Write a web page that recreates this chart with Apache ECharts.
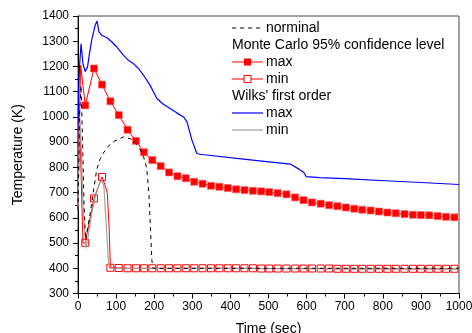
<!DOCTYPE html>
<html>
<head>
<meta charset="utf-8">
<script src="https://cdn.jsdelivr.net/npm/echarts@6/dist/echarts.min.js"></script>
<style>
  html, body { margin: 0; padding: 0; background: #fff; }
  #chart { width: 472px; height: 333px; }
</style>
</head>
<body>
<div id="chart"></div>
<script>
// ---- Data ----
const xTicks = [0, 100, 200, 300, 400, 500, 600, 700, 800, 900, 1000];
const yTicks = [300, 400, 500, 600, 700, 800, 900, 1000, 1100, 1200, 1300, 1400];

// Monte Carlo marker times (shared by max and min)
const mcMarkT = [19, 42, 63, 85, 107, 130, 152, 173, 195, 217, 239, 261, 283, 305, 327,
  349, 371, 393, 415, 437, 459, 481, 502, 524, 547, 570, 592, 614, 637, 659,
  681, 703, 725, 746, 768, 790, 812, 834, 857, 879, 900, 922, 944, 966, 988];
const mcMaxK = [1046, 1192, 1128, 1062, 1007, 949, 905, 860, 829, 805, 780, 765, 757, 743, 735,
  727, 723, 718, 713, 710, 707, 705, 702, 698, 693, 681, 670, 661, 656, 650,
  646, 641, 636, 632, 629, 625, 621, 618, 615, 612, 611, 610, 607, 604, 602];
const mcMinK = [501, 677, 762, 402, 401, 400, 400, 400, 400, 400, 400, 400, 400, 400, 400,
  400, 400, 400, 400, 400, 400, 399, 399, 399, 399, 399, 399, 399, 399, 399,
  398, 398, 398, 398, 398, 398, 398, 398, 398, 398, 398, 398, 398, 398, 398];
// un-marked intermediate points of the Monte Carlo curves
const mcMaxExtraT = [0, 3, 7];
const mcMaxExtraK = [630, 950, 1205];
const mcMinExtraT = [0, 4, 13, 72, 77, 82];
const mcMinExtraK = [630, 1010, 500, 725, 697, 550];

// Wilks' first order max (blue)
const wilksMaxT = [0, 1, 4, 8, 13, 19, 25, 30, 36, 45, 50, 55, 62, 76, 89, 102, 119, 132, 145, 160,
  172, 189, 207, 224, 242, 259, 277, 286, 299, 312, 320, 434, 557, 581, 593, 599, 635, 700, 806, 900, 1000];
const wilksMaxK = [640, 1070, 1200, 1290, 1210, 1180, 1198, 1250, 1304, 1363, 1380, 1337, 1324, 1314, 1297, 1277, 1245, 1225, 1212, 1190,
  1165, 1126, 1073, 1050, 1033, 1016, 1000, 980, 908, 855, 852, 833, 813, 792, 780, 763, 759, 755, 747, 740, 732];

// Wilks' first order min (gray)
const wilksMinT = [0, 4, 8, 13, 21, 28, 36, 45, 55, 62, 68, 75, 80, 83, 1000];
const wilksMinK = [630, 1000, 900, 650, 479, 540, 618, 680, 730, 750, 725, 551, 430, 400, 397];

// Nominal (dashed)
const nominalT = [0, 4, 8, 12, 16, 20, 32, 42, 49, 57, 67, 80, 97, 120, 140, 155, 165, 172, 180, 186, 190, 194, 197, 1000];
const nominalK = [630, 1000, 1125, 900, 650, 512, 618, 720, 790, 830, 858, 885, 905, 921, 912, 890, 865, 842, 800, 700, 560, 430, 400, 400];

// ---- build series data ----
function pairs(ts, vs) { return ts.map((t, i) => [t, vs[i]]); }
function withMarks(markT, markV, extraT, extraV) {
  const a = markT.map((t, i) => ({ value: [t, markV[i]] }));
  const b = extraT.map((t, i) => ({ value: [t, extraV[i]], symbol: 'none' }));
  return a.concat(b).sort((p, q) => p.value[0] - q.value[0]);
}

const FONT = "'Liberation Sans', Arial, sans-serif";
const chart = echarts.init(document.getElementById('chart'), null, { renderer: 'canvas' });

const legendX = 232, legendText = 266, rowH = 17, row0 = 28;
function rowY(i) { return row0 + i * rowH; }
const txt = (x, y, s) => ({ type: 'text', x: x, y: y, style: { text: s, fill: '#000', font: '14px ' + FONT, verticalAlign: 'middle', align: 'left' }, z: 100 });
const ln = (y, color, dash, w) => ({ type: 'line', shape: { x1: legendX, y1: y, x2: legendX + 31, y2: y }, style: { stroke: color, lineWidth: w || 1, lineDash: dash || null }, z: 100 });

chart.setOption({
  animation: false,
  backgroundColor: '#fff',
  grid: { left: 78, top: 16, right: 13, bottom: 39.5, containLabel: false, outerBoundsMode: 'none',
    show: true, borderColor: '#444', borderWidth: 1, backgroundColor: 'transparent' },
  xAxis: {
    type: 'value', min: xTicks[0], max: xTicks[xTicks.length - 1], interval: 100,
    name: 'Time (sec)', nameLocation: 'middle', nameGap: 29,
    nameTextStyle: { fontFamily: FONT, fontSize: 14, color: '#000' },
    axisLine: { lineStyle: { color: '#000', width: 1 } },
    axisTick: { show: true, inside: false, length: 5, lineStyle: { color: '#000' } },
    minorTick: { show: true, splitNumber: 2, length: 3, lineStyle: { color: '#000' } },
    axisLabel: { fontFamily: FONT, fontSize: 12, color: '#000', margin: 7, formatter: v => String(v) },
    splitLine: { show: false }
  },
  yAxis: {
    type: 'value', min: yTicks[0], max: yTicks[yTicks.length - 1], interval: 100,
    name: 'Temperature (K)', nameLocation: 'middle', nameGap: 53,
    nameTextStyle: { fontFamily: FONT, fontSize: 14, color: '#000' },
    axisLine: { show: true, lineStyle: { color: '#000', width: 1 } },
    axisTick: { show: true, inside: false, length: 5, lineStyle: { color: '#000' } },
    minorTick: { show: true, splitNumber: 2, length: 3, lineStyle: { color: '#000' } },
    axisLabel: { fontFamily: FONT, fontSize: 12, color: '#000', margin: 9, formatter: v => String(v) },
    splitLine: { show: false }
  },
  series: [
    {
      name: 'Wilks max', type: 'line', data: pairs(wilksMaxT, wilksMaxK),
      symbol: 'none', lineStyle: { color: '#0000ff', width: 1.2 }, z: 2
    },
    {
      name: 'MC max', type: 'line', data: withMarks(mcMarkT, mcMaxK, mcMaxExtraT, mcMaxExtraK),
      symbol: 'rect', symbolSize: 7, showAllSymbol: true,
      lineStyle: { color: '#ff0000', width: 1 }, itemStyle: { color: '#ff0000', borderColor: '#ff6060', borderWidth: 0.6 }, z: 3
    },
    {
      name: 'MC min', type: 'line', data: withMarks(mcMarkT, mcMinK, mcMinExtraT, mcMinExtraK),
      symbol: 'rect', symbolSize: 7, showAllSymbol: true,
      lineStyle: { color: '#ff0000', width: 1 }, itemStyle: { color: 'rgba(255,255,255,0)', borderColor: '#ff0000', borderWidth: 1 }, z: 3
    },
    {
      name: 'Wilks min', type: 'line', data: pairs(wilksMinT, wilksMinK),
      symbol: 'none', lineStyle: { color: '#a0a0a0', width: 1.2 }, z: 4
    },
    {
      name: 'nominal', type: 'line', data: pairs(nominalT, nominalK),
      symbol: 'none', lineStyle: { color: '#000', width: 1, type: [4, 4] }, z: 5
    }
  ],
  graphic: [
    ln(rowY(0), '#000', [4, 4]), txt(legendText, rowY(0), 'norminal'),
    txt(legendX, rowY(1), 'Monte Carlo 95% confidence level'),
    ln(rowY(2), '#ff0000'),
    { type: 'rect', shape: { x: legendX + 12, y: rowY(2) - 3.5, width: 7, height: 7 }, style: { fill: '#ff0000' }, z: 101 },
    txt(legendText, rowY(2), 'max'),
    ln(rowY(3), '#ff0000'),
    { type: 'rect', shape: { x: legendX + 12, y: rowY(3) - 3.5, width: 7, height: 7 }, style: { fill: '#fff', stroke: '#ff0000', lineWidth: 1 }, z: 101 },
    txt(legendText, rowY(3), 'min'),
    txt(legendX, rowY(4), "Wilks' first order"),
    ln(rowY(5), '#0000ff', null, 1.2), txt(legendText, rowY(5), 'max'),
    ln(rowY(6), '#a0a0a0', null, 1.2), txt(legendText, rowY(6), 'min')
  ]
});
</script>
</body>
</html>
